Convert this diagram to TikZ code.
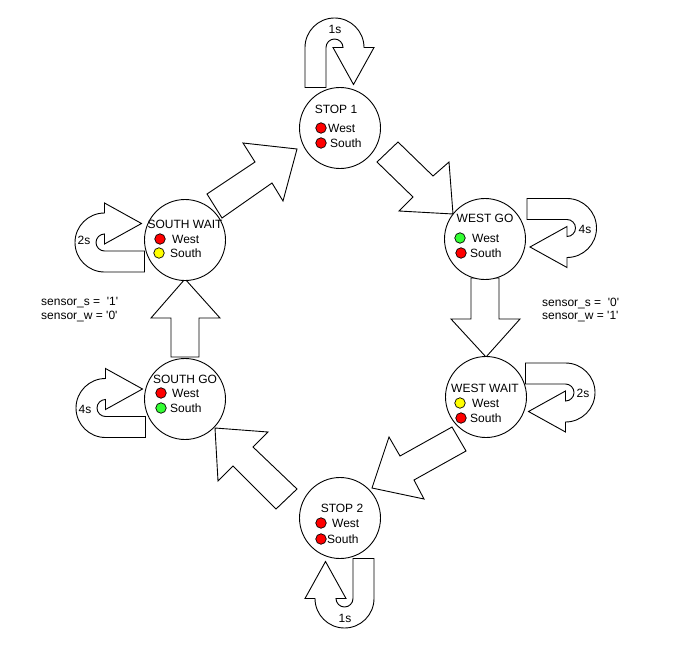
\documentclass[tikz,border=0pt]{standalone}
\usepackage{fontspec}
\setmainfont{Liberation Sans}
\definecolor{lampred}{HTML}{FF0000}
\definecolor{lampgreen}{HTML}{33FF33}
\definecolor{lampyellow}{HTML}{FFFF00}
\tikzset{
  statecirc/.style={circle, draw=black, fill=white, line width=0.9pt, minimum size=81pt, inner sep=0pt},
  lamp/.style={circle, draw=black, line width=0.7pt, minimum size=10.5pt, inner sep=0pt},
  txt/.style={font=\fontsize{12}{14}\selectfont, inner sep=0pt, text=black},
  blockarrow/.style={draw=black, fill=white, line width=0.9pt, line join=miter},
  uturn/.pic={\draw[blockarrow] (-29.5pt,-40pt) -- (-29.5pt,0pt)
      arc[start angle=180,end angle=0,radius=29.5pt] -- (39.5pt,0pt) -- (19pt,-37pt)
      -- (-1.5pt,0pt) -- (8.5pt,0pt) arc[start angle=0,end angle=180,radius=8.5pt]
      -- (-8.5pt,-40pt) -- cycle;}
}
\begin{document}
\begin{tikzpicture}[x=1pt,y=-1pt]
\useasboundingbox (0,0) rectangle (684,658);
% self loops
\pic (loopa) at (334.5,47.5) {uturn};
\pic[rotate=-90] (loopb) at (567,228) {uturn};
\pic[rotate=-90] (loopc) at (565.5,392.5) {uturn};
\pic[rotate=180] (loopd) at (344.5,598.5) {uturn};
\pic[rotate=90] (loope) at (104.5,242.5) {uturn};
\pic[rotate=90] (loopf) at (105.5,408) {uturn};
% block arrows between states
\draw[blockarrow] (207,194) -- (255,162) -- (243,143) -- (297,149) -- (283,201) -- (272,183) -- (222,218) -- cycle;
\draw[blockarrow] (377,162) -- (398,142) -- (433,176) -- (449,162) -- (453,214) -- (399,211) -- (413,197) -- cycle;
\draw[blockarrow] (471,278) -- (499,278) -- (499,319) -- (520,319) -- (486,357) -- (451,319) -- (471,319) -- cycle;
\draw[blockarrow] (452,427) -- (400,456) -- (389,437) -- (372,488) -- (424,499) -- (414,480) -- (466,451) -- cycle;
\draw[blockarrow] (215,428) -- (268,432) -- (253,447) -- (297,489) -- (276,509) -- (233,466) -- (218,481) -- cycle;
\draw[blockarrow] (171,357) -- (171,318) -- (151,318) -- (185,279) -- (220,318) -- (199,318) -- (199,357) -- cycle;
% states
\node[statecirc] (s1) at (340,128) {};
\node[statecirc] (wg) at (485,239) {};
\node[statecirc] (ww) at (486,397) {};
\node[statecirc] (s2) at (340,518) {};
\node[statecirc] (sg) at (185,399) {};
\node[statecirc] (sw) at (185,240) {};
% STOP 1
\node[txt, anchor=base] (s1t) at (336,113.3) {STOP 1};
\node[lamp, fill=lampred] (s1wd) at (321,128) {};
\node[txt, anchor=base west] (s1w) at (328,132.3) {West};
\node[lamp, fill=lampred] (s1sd) at (321,143) {};
\node[txt, anchor=base west] (s1s) at (330,147.3) {South};
% WEST GO
\node[txt, anchor=base] (wgt) at (485,222.3) {WEST GO};
\node[lamp, fill=lampgreen] (wgwd) at (460,238) {};
\node[txt, anchor=base west] (wgw) at (472,242.3) {West};
\node[lamp, fill=lampred] (wgsd) at (461,253) {};
\node[txt, anchor=base west] (wgs) at (470,257.3) {South};
% SOUTH WAIT
\node[txt, anchor=base] (swt) at (185,228.3) {SOUTH WAIT};
\node[lamp, fill=lampred] (swwd) at (160,239) {};
\node[txt, anchor=base west] (sww) at (172,243.3) {West};
\node[lamp, fill=lampyellow] (swsd) at (159,253) {};
\node[txt, anchor=base west] (sws) at (170,257.3) {South};
% SOUTH GO
\node[txt, anchor=base] (sgt) at (185,383.3) {SOUTH GO};
\node[lamp, fill=lampred] (sgwd) at (161,393) {};
\node[txt, anchor=base west] (sgw) at (172,397.3) {West};
\node[lamp, fill=lampgreen] (sgsd) at (161,408) {};
\node[txt, anchor=base west] (sgs) at (170,412.3) {South};
% WEST WAIT
\node[txt, anchor=base] (wwt) at (485,392.3) {WEST WAIT};
\node[lamp, fill=lampyellow] (wwwd) at (460,403) {};
\node[txt, anchor=base west] (www) at (472,407.3) {West};
\node[lamp, fill=lampred] (wwsd) at (461,418) {};
\node[txt, anchor=base west] (wws) at (470,422.3) {South};
% STOP 2
\node[txt, anchor=base] (s2t) at (342,512.3) {STOP 2};
\node[lamp, fill=lampred] (s2wd) at (321,523) {};
\node[txt, anchor=base west] (s2w) at (332,527.3) {West};
\node[lamp, fill=lampred] (s2sd) at (321,539) {};
\node[txt, anchor=base west] (s2s) at (327,543.3) {South};
% loop labels
\node[txt, anchor=base] (la) at (335,33.3) {1s};
\node[txt, anchor=base] (lb) at (585,233.3) {4s};
\node[txt, anchor=base] (lc) at (583,397.3) {2s};
\node[txt, anchor=base] (ld) at (345,622.3) {1s};
\node[txt, anchor=base] (le) at (84,244.3) {2s};
\node[txt, anchor=base] (lf) at (85,413.3) {4s};
% sensor conditions
\node[txt, anchor=base west] (cl1) at (41,305.3) {sensor\_s =\ \ \textquotesingle1\textquotesingle};
\node[txt, anchor=base west] (cl2) at (41,319.3) {sensor\_w = \textquotesingle0\textquotesingle};
\node[txt, anchor=base west] (cr1) at (542,306.3) {sensor\_s =\ \ \textquotesingle0\textquotesingle};
\node[txt, anchor=base west] (cr2) at (542,319.3) {sensor\_w = \textquotesingle1\textquotesingle};
\end{tikzpicture}
\end{document}
